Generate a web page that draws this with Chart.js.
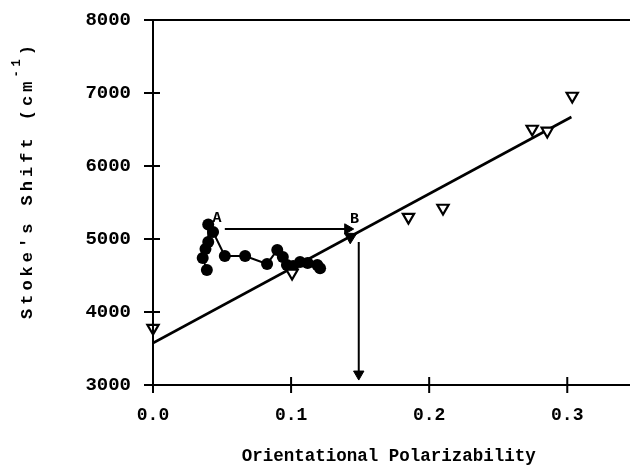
<!DOCTYPE html>
<html>
<head>
<meta charset="utf-8">
<script src="https://cdn.jsdelivr.net/npm/chart.js@4.4.1/dist/chart.umd.min.js"></script>
<style>
  html, body { margin: 0; padding: 0; background: #fff; }
  #wrap { width: 633px; height: 467px; }
</style>
</head>
<body>
<div id="wrap"><canvas id="shiftChart"></canvas></div>
<script>
// tick positions
const xTicks = [0, 0.1, 0.2, 0.3];
const yTicks = [3000, 4000, 5000, 6000, 7000, 8000];

// open triangles
const triX = [0.0, 0.1007, 0.185, 0.21, 0.2746, 0.2855, 0.3036];
const triY = [3780, 4534, 5300, 5425, 6507, 6480, 6959];

// filled circles, joined in order
const circX = [0.039, 0.036, 0.038, 0.040, 0.040, 0.0435, 0.052, 0.0667, 0.0826, 0.090, 0.094, 0.097, 0.1015, 0.1065, 0.112, 0.119, 0.121];
const circY = [4575, 4740, 4863, 4960, 5200, 5096, 4767, 4767, 4658, 4849, 4753, 4644, 4630, 4685, 4671, 4644, 4600];

// regression line
const fitX = [0, 0.303];
const fitY = [3575, 6671];

// arrows
const abX = [0.052, 0.141];
const abY = [5137, 5137];
const downX = [0.149, 0.149];
const downY = [4960, 3150];
const fitHeadX = [0.143];
const fitHeadY = [5030];

const FONT = "'Liberation Mono', 'DejaVu Sans Mono', monospace";

function pts(xs, ys) {
    return xs.map((x, i) => ({ x: x, y: ys[i] }));
}

// axes drawn by hand: crossing ticks, top rule, labels A/B, y title
const framePlugin = {
    id: "frame",
    afterDatasetsDraw(chart) {
        const ctx = chart.ctx;
        const xs = chart.scales.x, ys = chart.scales.y;
        const x0 = xs.getPixelForValue(0);
        const yBot = ys.getPixelForValue(3000);
        const yTop = ys.getPixelForValue(8000);
        const xEnd = chart.width - 3;
        ctx.save();
        ctx.strokeStyle = "#000";
        ctx.lineWidth = 2;
        ctx.beginPath();
        ctx.moveTo(x0, yTop); ctx.lineTo(x0, yBot);
        ctx.moveTo(x0 - 9, yBot); ctx.lineTo(xEnd, yBot);
        ctx.moveTo(x0 - 9, yTop); ctx.lineTo(xEnd, yTop);
        yTicks.forEach(v => {
            const p = ys.getPixelForValue(v);
            ctx.moveTo(x0 - 9, p); ctx.lineTo(x0 + 7, p);
        });
        xTicks.forEach(v => {
            const p = xs.getPixelForValue(v);
            ctx.moveTo(p, yBot - 8); ctx.lineTo(p, yBot + 8);
        });
        ctx.stroke();

        // point labels
        ctx.fillStyle = "#000";
        ctx.font = "bold 15px " + FONT;
        ctx.textAlign = "center";
        ctx.textBaseline = "middle";
        ctx.fillText("A", xs.getPixelForValue(0.0464), ys.getPixelForValue(5290));
        ctx.fillText("B", xs.getPixelForValue(0.146), ys.getPixelForValue(5275));

        // y axis title with superscript
        ctx.translate(28, 180);
        ctx.rotate(-Math.PI / 2);
        ctx.letterSpacing = "4px";
        ctx.font = "bold 17px " + FONT;
        const main = "Stoke's Shift (cm";
        const mw = ctx.measureText(main).width;
        ctx.font = "bold 12px " + FONT;
        const sup = "-1";
        const sw = ctx.measureText(sup).width;
        ctx.font = "bold 17px " + FONT;
        const cw = ctx.measureText(")").width;
        let x = -(mw + sw + cw) / 2;
        ctx.textAlign = "left";
        ctx.fillText(main, x, 0);
        x += mw;
        ctx.font = "bold 12px " + FONT;
        ctx.fillText(sup, x, -11);
        x += sw;
        ctx.font = "bold 17px " + FONT;
        ctx.fillText(")", x, 0);
        ctx.restore();
    }
};

const ctx = document.getElementById("shiftChart").getContext("2d");
new Chart(ctx, {
    type: "scatter",
    data: {
        datasets: [
            {
                label: "triangles",
                data: pts(triX, triY),
                pointStyle: "triangle",
                rotation: 180,
                pointRadius: 6.5,
                backgroundColor: "#fff",
                borderColor: "#000",
                borderWidth: 2.2,
                clip: false
            },
            {
                label: "circles",
                data: pts(circX, circY),
                showLine: true,
                borderColor: "#000",
                borderWidth: 2,
                backgroundColor: "#000",
                pointRadius: 6,
                pointBorderWidth: 0
            },
            {
                label: "fit",
                data: pts(fitX, fitY),
                showLine: true,
                borderColor: "#000",
                borderWidth: 2.6,
                pointRadius: 0
            },
            {
                label: "fitHead",
                data: pts(fitHeadX, fitHeadY),
                pointStyle: "triangle",
                rotation: 62,
                pointRadius: 7,
                backgroundColor: "#000",
                borderColor: "#000",
                borderWidth: 1
            },
            {
                label: "A to B",
                data: pts(abX, abY),
                showLine: true,
                borderColor: "#000",
                borderWidth: 2,
                pointStyle: "triangle",
                rotation: 90,
                pointRadius: [0, 6],
                backgroundColor: "#000",
                pointBorderWidth: 1
            },
            {
                label: "down",
                data: pts(downX, downY),
                showLine: true,
                borderColor: "#000",
                borderWidth: 2,
                pointStyle: "triangle",
                rotation: 180,
                pointRadius: [0, 6],
                backgroundColor: "#000",
                pointBorderWidth: 1
            }
        ]
    },
    options: {
        responsive: true,
        maintainAspectRatio: false,
        animation: false,
        layout: { padding: 0 },
        plugins: {
            legend: { display: false },
            tooltip: { enabled: false }
        },
        scales: {
            x: {
                type: "linear",
                min: 0,
                max: 0.3413,
                grid: { display: false, drawTicks: false },
                border: { display: false },
                afterBuildTicks: scale => { scale.ticks = xTicks.map(v => ({ value: v })); },
                afterFit: scale => {
                    scale.height = 82;
                    scale.paddingLeft = 0;
                    scale.paddingRight = 0;
                },
                ticks: {
                    padding: 20,
                    color: "#000",
                    font: { family: FONT, size: 18, weight: "bold" },
                    callback: v => v.toFixed(1)
                },
                title: {
                    display: true,
                    text: "Orientational Polarizability",
                    color: "#000",
                    padding: { top: 0, bottom: 0 },
                    font: { family: FONT, size: 17.5, weight: "bold" }
                }
            },
            y: {
                type: "linear",
                min: 3000,
                max: 8000,
                grid: { display: false, drawTicks: false },
                border: { display: false },
                afterBuildTicks: scale => { scale.ticks = yTicks.map(v => ({ value: v })); },
                afterFit: scale => {
                    scale.width = 153;
                    scale.paddingTop = 20;
                    scale.paddingBottom = 0;
                },
                ticks: {
                    padding: 22,
                    color: "#000",
                    font: { family: FONT, size: 19, weight: "bold" },
                    callback: v => String(v)
                }
            }
        }
    },
    plugins: [framePlugin]
});
</script>
</body>
</html>
